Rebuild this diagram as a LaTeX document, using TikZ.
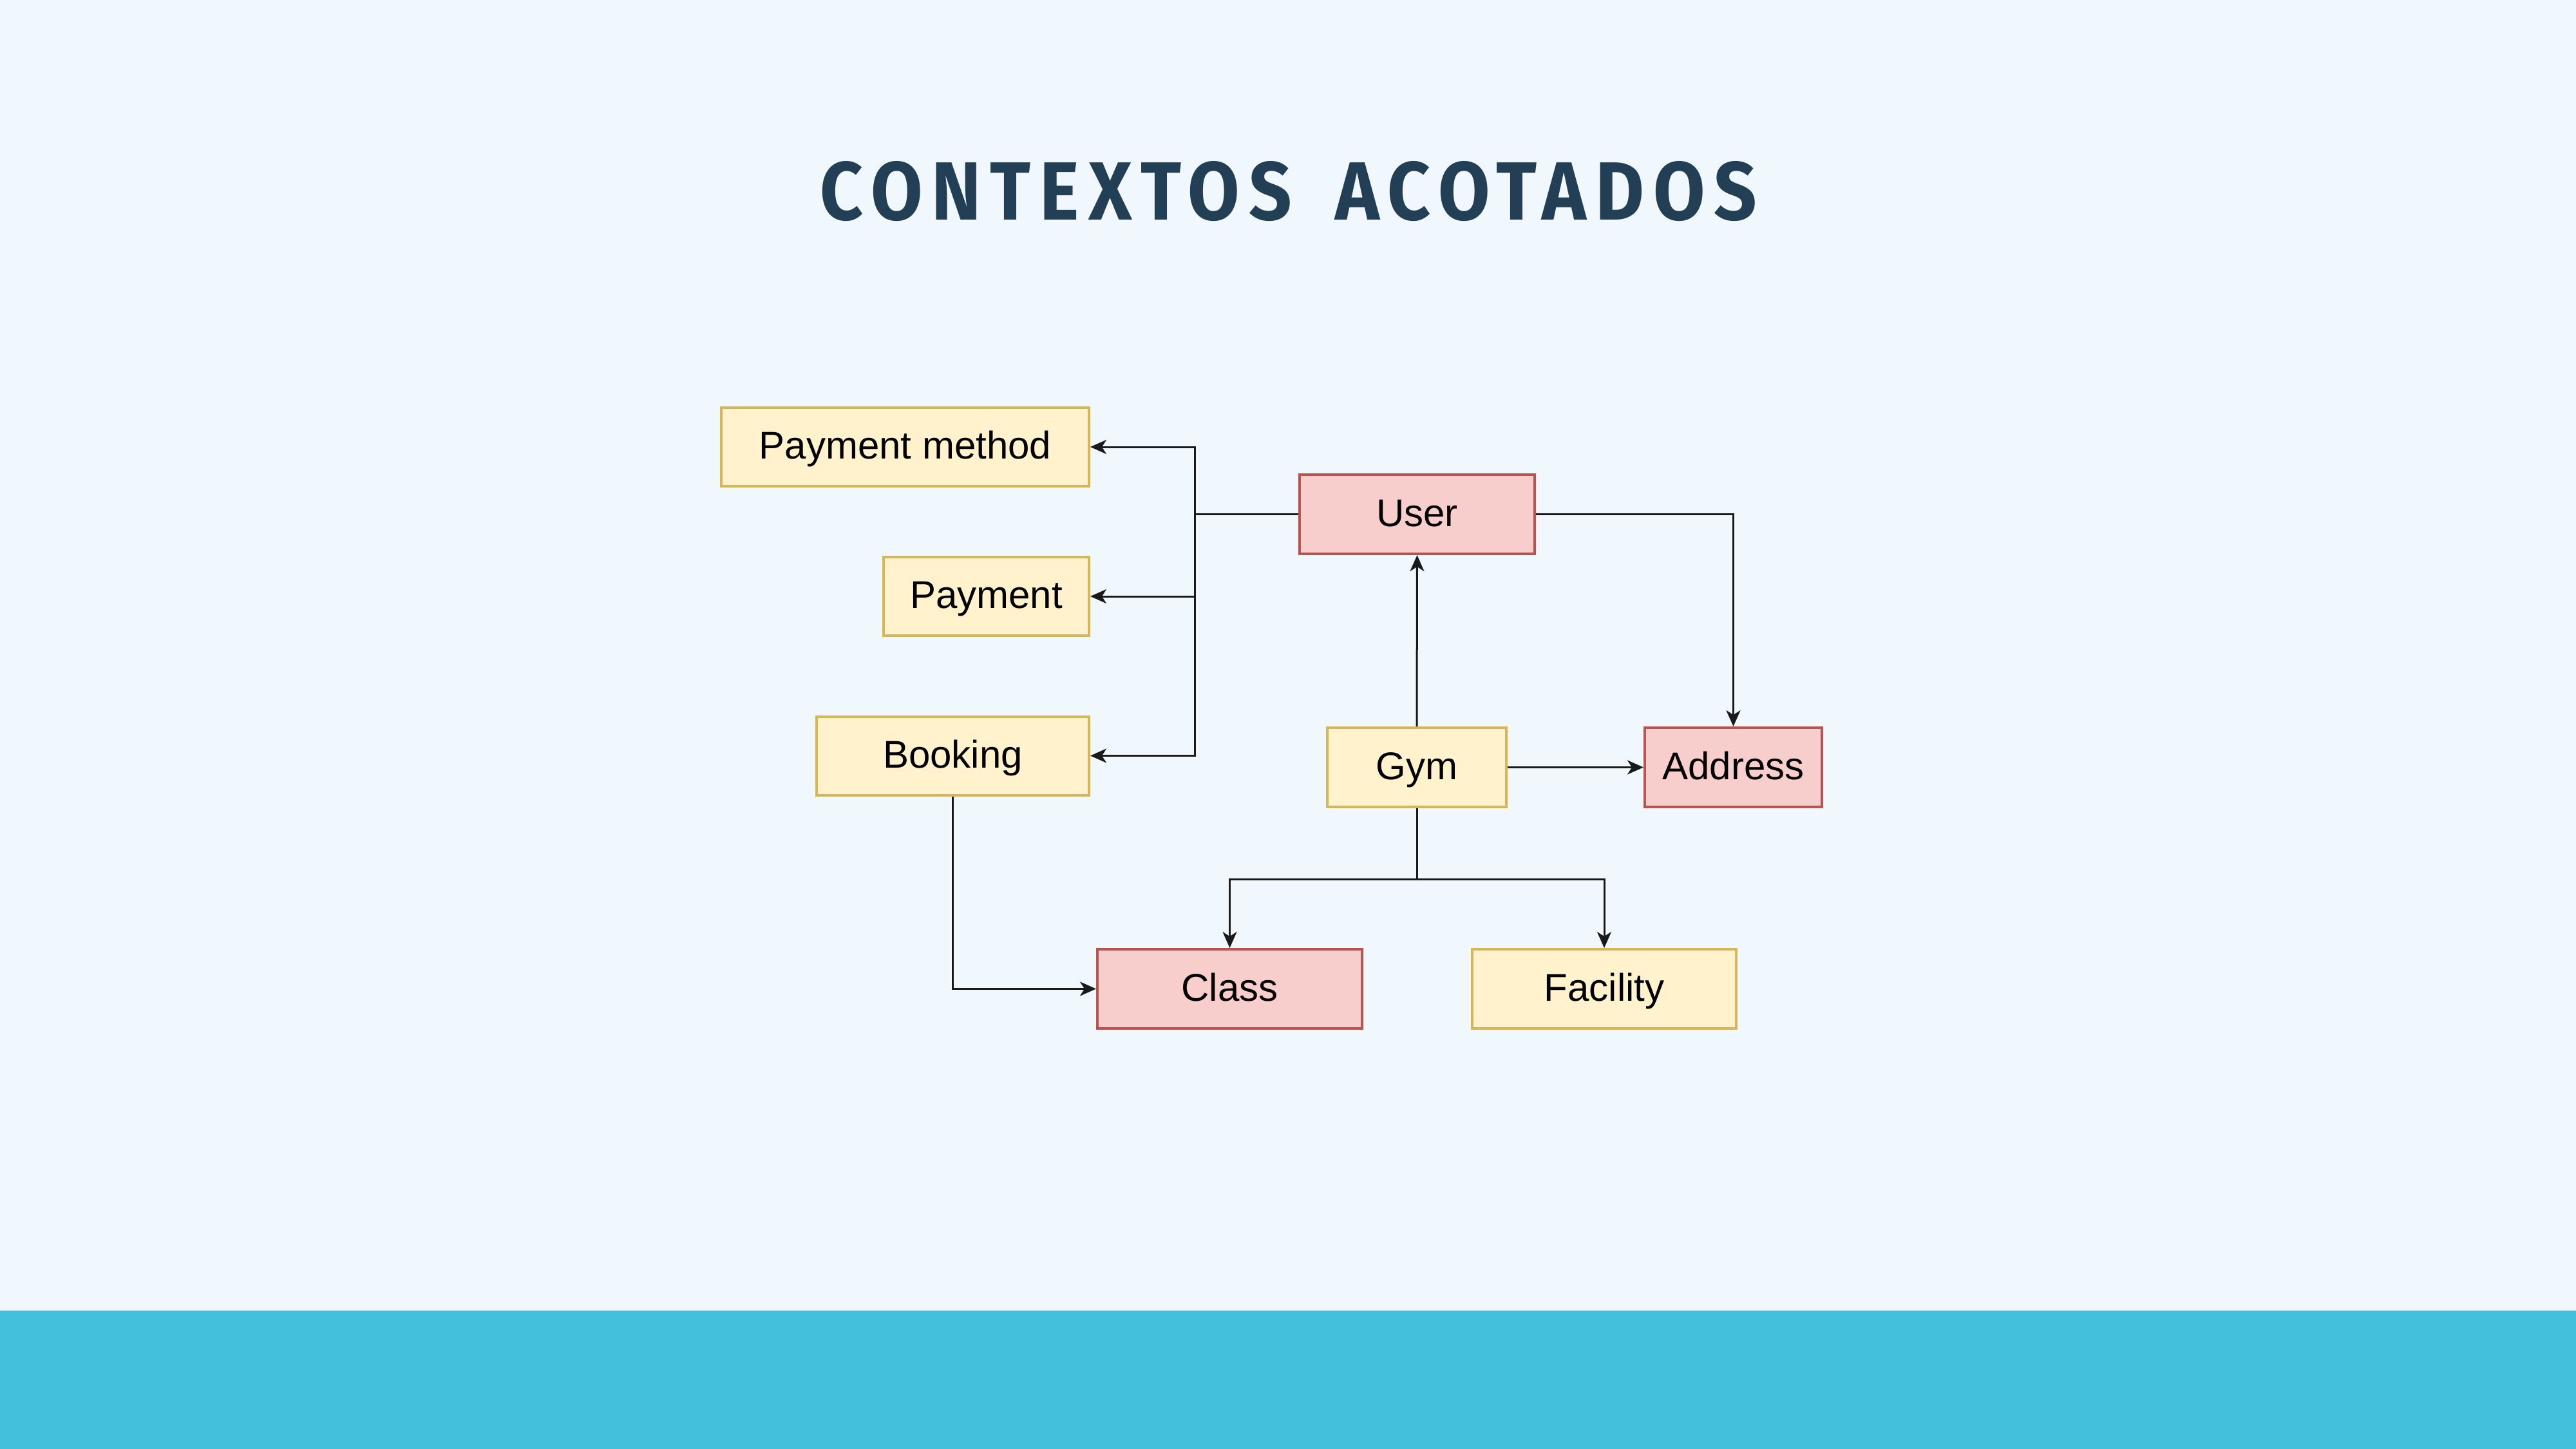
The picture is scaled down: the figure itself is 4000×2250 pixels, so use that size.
\documentclass[tikz,border=0pt]{standalone}
\usepackage{fontspec}
\setmainfont{Liberation Sans}
\newfontfamily\titlefont[LetterSpace=12]{Fira Sans Bold}
\usetikzlibrary{arrows.meta}
\definecolor{bgcol}{HTML}{F0F8FE}
\definecolor{bandcol}{HTML}{42C0DC}
\definecolor{titlecol}{HTML}{223F55}
\definecolor{yfill}{HTML}{FFF2CC}
\definecolor{ydraw}{HTML}{D6B656}
\definecolor{rfill}{HTML}{F8CECC}
\definecolor{rdraw}{HTML}{B85450}
\definecolor{linecol}{HTML}{1A1A1A}
\tikzset{
  entity/.style={rectangle, line width=4pt, inner sep=0pt, font=\fontsize{60}{72}\selectfont, text=black, text height=49pt, text depth=12pt},
  ybox/.style={entity, fill=yfill, draw=ydraw},
  rbox/.style={entity, fill=rfill, draw=rdraw},
  conn/.style={draw=linecol, line width=3pt, -{Stealth[length=25pt, width=22pt, inset=7pt]}},
  plain/.style={draw=linecol, line width=3pt}
}
\begin{document}
\begin{tikzpicture}[x=1pt,y=-1pt]
\fill[bgcol] (0,0) rectangle (4000,2250);
\fill[bandcol] (0,2035) rectangle (4000,2250);
\useasboundingbox (0,0) rectangle (4000,2250);
\node[text=titlecol, inner sep=0pt] (title) at (2001,297) {\resizebox{1454pt}{91pt}{\titlefont CONTEXTOS\hspace{0.22em} ACOTADOS}};

\node[ybox, minimum width=571pt, minimum height=122pt] (pm) at (1405.5,694) {Payment method};
\node[ybox, minimum width=319pt, minimum height=122pt] (pay) at (1531.5,926) {Payment};
\node[ybox, minimum width=423pt, minimum height=122pt] (book) at (1479.5,1173.5) {Booking};
\node[rbox, minimum width=365pt, minimum height=123pt] (user) at (2200.5,798.5) {User};
\node[ybox, minimum width=278pt, minimum height=123pt] (gym) at (2200,1191.5) {Gym};
\node[rbox, minimum width=275pt, minimum height=123pt] (addr) at (2691.5,1191.5) {Address};
\node[rbox, minimum width=411pt, minimum height=123pt] (class) at (1909.5,1535.5) {Class};
\node[ybox, minimum width=410pt, minimum height=123pt] (fac) at (2491,1535.5) {Facility};

\coordinate (jx) at (1855,798.5);
\coordinate (bus) at (2200,1365);

\draw[plain] (user.west) -- (jx);
\draw[conn] (jx) |- (pm.east);
\draw[conn] (jx) |- (pay.east);
\draw[conn] (jx) |- (book.east);
\draw[conn] (user.east) -| (addr.north);
\draw[conn] (gym.north) -- (user.south);
\draw[conn] (gym.east) -- (addr.west);
\draw[plain] (gym.south) -- (bus);
\draw[conn] (bus) -| (class.north);
\draw[conn] (bus) -| (fac.north);
\draw[conn] (book.south) |- (class.west);
\end{tikzpicture}
\end{document}
